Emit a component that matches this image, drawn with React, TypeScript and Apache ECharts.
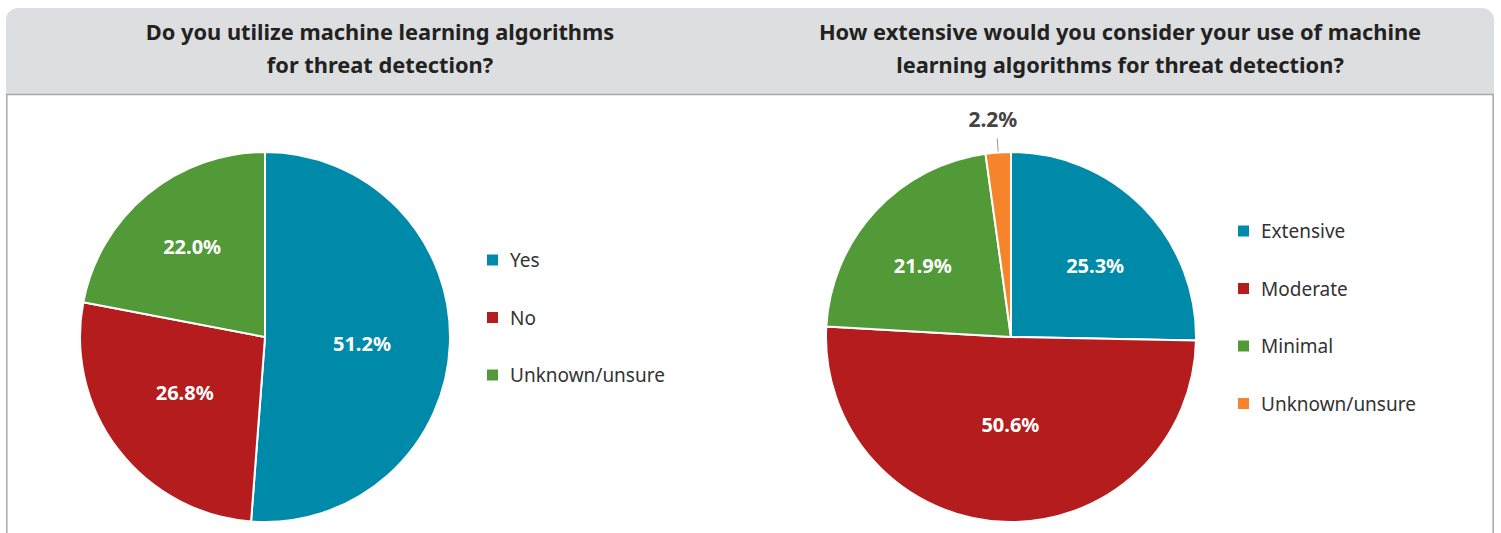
import React, { useEffect, useRef } from "react";
import * as echarts from "echarts";

const title1 = "Do you utilize machine learning algorithms\nfor threat detection?";
const title2 = "How extensive would you consider your use of machine\nlearning algorithms for threat detection?";

const cats1 = ["Yes", "No", "Unknown/unsure"];
const vals1 = [51.2, 26.8, 22.0];
const cats2 = ["Extensive", "Moderate", "Minimal", "Unknown/unsure "];
const vals2 = [25.3, 50.6, 21.9, 2.2];

const colors1 = ["#008AA9", "#B51C1D", "#529A37"];
const colors2 = ["#008AA9", "#B51C1D", "#529A37", "#F5842A"];

// label nudges (dx, dy) per series / data index
const nudges1 = [[1.5, 2.5], [-4.5, -3], [-12, -17]];
const nudges2 = [[16, -5], [3, -8], [-18, -7], [22, -19.5]];

const FONT = "Noto Sans";

export default function App() {
  const ref = useRef<HTMLDivElement>(null);
  useEffect(() => {
    document.body.style.margin = "0";
    const chart = echarts.init(ref.current!, null, { renderer: "svg" });
    const fmt = (p: any) => Number(p.value).toFixed(1) + "%";
    const insideLabel = {
      show: true,
      position: "inside",
      formatter: fmt,
      color: "#fff",
      fontSize: 20,
      fontWeight: "bold",
      fontFamily: FONT,
    };
    const legendBase = {
      orient: "vertical",
      itemWidth: 13,
      itemHeight: 13,
      itemGap: 37.5,
      padding: 0,
      icon: "rect",
      selectedMode: false,
      textStyle: {
        fontSize: 19,
        lineHeight: 20,
        color: "#333",
        fontFamily: FONT,
        padding: [0, 0, 0, 6],
      },
    };
    const titleStyle = { fontSize: 21.8, fontWeight: "bold", lineHeight: 33, color: "#222", fontFamily: FONT };
    chart.setOption({
      animation: false,
      graphic: [
        {
          type: "rect",
          shape: { x: 6, y: 8, width: 1488, height: 86, r: [12, 12, 0, 0] },
          style: { fill: "#DDDEDF" },
          z: -10,
        },
        {
          type: "line",
          shape: { x1: 6, y1: 94.5, x2: 1494, y2: 94.5 },
          style: { stroke: "#A8A8A8", lineWidth: 1.5 },
        },
        {
          type: "line",
          shape: { x1: 6.8, y1: 94, x2: 6.8, y2: 533 },
          style: { stroke: "#A8A8A8", lineWidth: 1.5 },
        },
        {
          type: "line",
          shape: { x1: 1493.2, y1: 94, x2: 1493.2, y2: 533 },
          style: { stroke: "#A8A8A8", lineWidth: 1.5 },
        },
      ],
      title: [
        { text: title1, left: 375, top: 10, textAlign: "center", textStyle: titleStyle },
        { text: title2, left: 1115, top: 10, textAlign: "center", textStyle: titleStyle },
      ],
      legend: [
        { ...legendBase, data: cats1, left: 485, top: 250 },
        { ...legendBase, data: cats2, left: 1236, top: 221 },
      ],
      series: [
        {
          type: "pie",
          center: [265, 337],
          radius: [0, 185],
          startAngle: 90,
          clockwise: true,
          itemStyle: { borderColor: "#fff", borderWidth: 2 },
          label: insideLabel,
          labelLine: { show: false },
          labelLayout: (p: any) => ({ dx: nudges1[p.dataIndex][0], dy: nudges1[p.dataIndex][1] }),
          data: cats1.map((c, i) => ({ name: c, value: vals1[i], itemStyle: { color: colors1[i] } })),
        },
        {
          type: "pie",
          center: [1011, 337],
          radius: [0, 185],
          startAngle: 90,
          clockwise: true,
          itemStyle: { borderColor: "#fff", borderWidth: 2 },
          label: insideLabel,
          labelLine: { show: false },
          labelLayout: (p: any) => ({ dx: nudges2[p.dataIndex][0], dy: nudges2[p.dataIndex][1] }),
          data: cats2.map((c, i) => {
            const d: any = { name: c, value: vals2[i], itemStyle: { color: colors2[i] } };
            if (i === 3) {
              d.label = { position: "outside", color: "#444", fontSize: 21, fontWeight: "bold", distanceToLabelLine: 2 };
              d.labelLine = { show: true, length: 14, length2: 0, lineStyle: { color: "#999", width: 1 } };
            }
            return d;
          }),
        },
      ],
    });
    return () => chart.dispose();
  }, []);
  return <div ref={ref} style={{ width: 1501, height: 533 }} />;
}
